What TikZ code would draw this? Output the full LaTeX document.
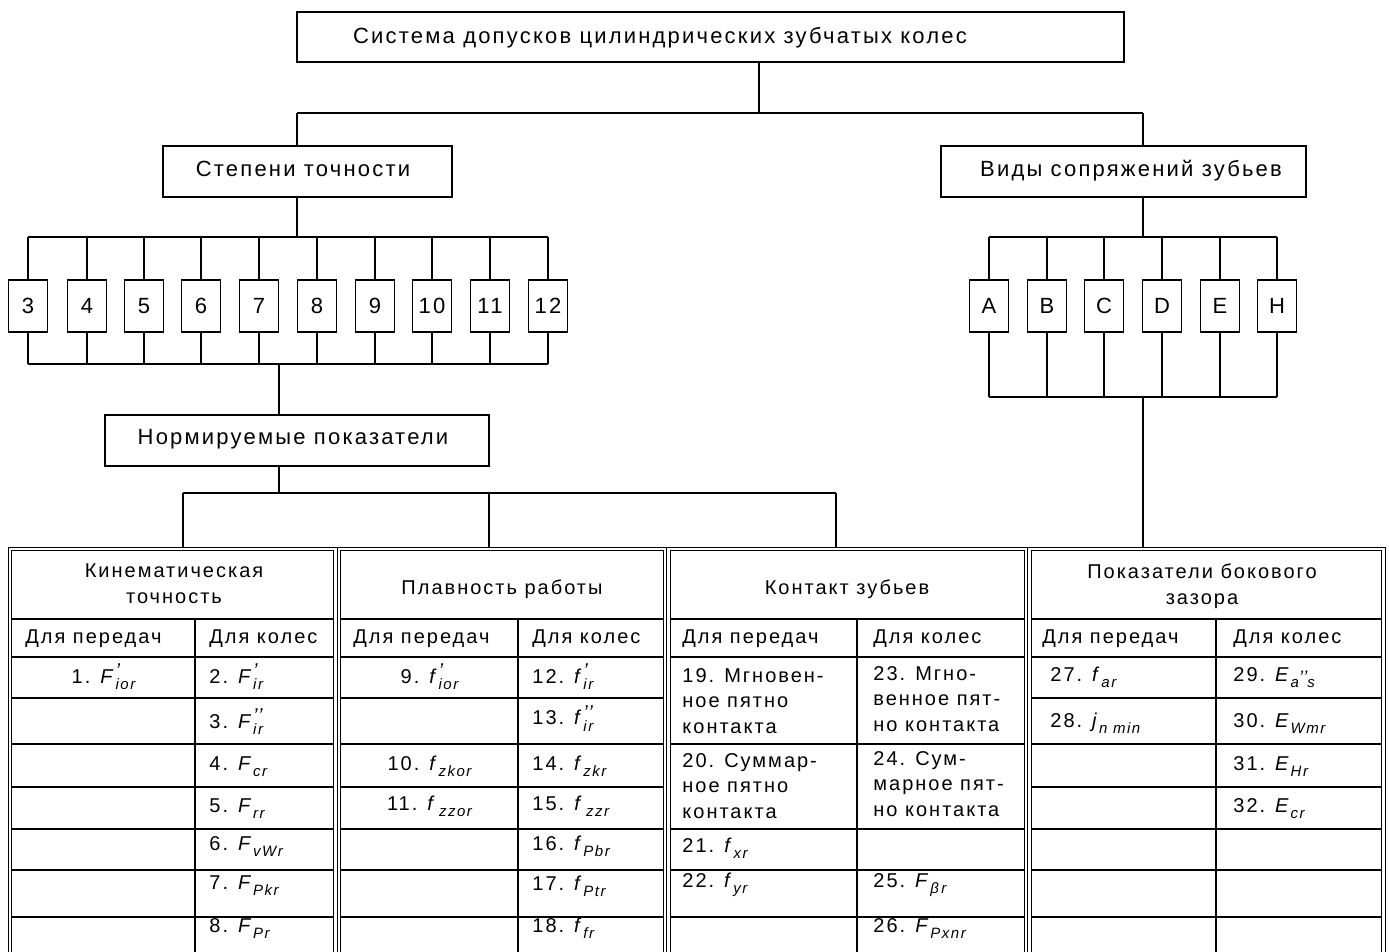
\documentclass[tikz,border=0pt]{standalone}
\usepackage{fontspec}
\setmainfont{Liberation Sans}[LetterSpace=10]
\newcommand\sy[3]{\textit{#1}\makebox[0pt][l]{\raisebox{0.28em}{\fontsize{10}{10}\selectfont\itshape #2}}\raisebox{-0.3em}{\fontsize{7.5}{8}\selectfont\itshape #3}}
\newcommand\dpr{'\kern0.02em'}
\begin{document}
\begin{tikzpicture}[x=0.5pt,y=-0.5pt,
  ln/.style={line width=0.65pt},
  box/.style={draw,line width=0.65pt,inner sep=0pt,outer sep=0pt},
  lbl/.style={inner sep=0pt,font=\fontsize{11}{13}\selectfont,anchor=base},
  nbox/.style={box,minimum width=19.5pt,minimum height=26pt,font=\fontsize{11}{13}\selectfont},
  cell/.style={inner sep=0pt,font=\fontsize{10}{12.75}\selectfont,anchor=base west},
  ccell/.style={cell,anchor=base},
  mcell/.style={inner sep=0pt,font=\fontsize{10}{12.75}\selectfont,align=left,anchor=north west},
  hcell/.style={inner sep=0pt,font=\fontsize{10}{13}\selectfont,align=center},
  grid/.style={line width=0.7pt},
  grp/.style={draw,double,line width=0.5pt,double distance=1.3pt},
]
\useasboundingbox (0,0) rectangle (1389,952);
\fill[white] (0,0) rectangle (1389,952);
\clip (0,0) rectangle (1389,952);

% ---------- boxes ----------
\node[box,minimum width=413.5pt,minimum height=25pt] (top) at (710.5,37) {};
\node[lbl] (topt) at (660,44) {Система допусков цилиндрических зубчатых колес};
\node[box,minimum width=144.5pt,minimum height=25.5pt] (step) at (307.5,171.5) {};
\node[lbl] (stept) at (303,177) {Степени точности};
\node[box,minimum width=182.5pt,minimum height=25.5pt] (vidy) at (1123.5,171.5) {};
\node[lbl] (vidyt) at (1131,177) {Виды сопряжений зубьев};
\node[box,minimum width=192pt,minimum height=25.5pt] (norm) at (297,440.5) {};
\node[lbl] (normt) at (293,445) {Нормируемые показатели};

% number boxes
\foreach \t/\x [count=\i] in {3/28,4/87,5/144,6/201,7/259,8/317,9/375,10/432,11/490,12/548}
  \node[nbox] (n\i) at (\x,306) {\t};
% letter boxes
\foreach \t/\x [count=\i] in {A/989,B/1047,C/1104,D/1162,E/1220,H/1277}
  \node[nbox] (l\i) at (\x,306) {\t};

% ---------- connectors ----------
\coordinate (tj) at (759,113);
\coordinate (hl) at (297,113);
\coordinate (hr) at (1143,113);
\draw[ln] (tj |- top.south) -- (tj);
\draw[ln] (hl) -- (hr);
\draw[ln] (hl) -- (hl |- step.north);
\draw[ln] (hr) -- (hr |- vidy.north);

\coordinate (sj) at (297,237);
\coordinate (sbl) at (28,237);
\coordinate (sbr) at (548,237);
\coordinate (lbl) at (28,364);
\coordinate (lbr) at (548,364);
\draw[ln] (sj |- step.south) -- (sj);
\draw[ln] (sbl) -- (sbr);
\draw[ln] (lbl) -- (lbr);
\foreach \i in {1,...,10}{
  \draw[ln] (n\i.north) -- (n\i.north |- sbl);
  \draw[ln] (n\i.south) -- (n\i.south |- lbl);
}
\coordinate (nj) at (279,364);
\draw[ln] (nj) -- (nj |- norm.north);
\coordinate (nb) at (279,493);
\coordinate (nbl) at (183,493);
\coordinate (nbm) at (489,493);
\coordinate (nbr) at (836,493);
\draw[ln] (nb |- norm.south) -- (nb);
\draw[ln] (nbl) -- (nbr);
\coordinate (tk) at (183,547);
\coordinate (tp) at (489,547);
\coordinate (tc) at (836,547);
\draw[ln] (nbl) -- (tk);
\draw[ln] (nbm) -- (tp);
\draw[ln] (nbr) -- (tc);

\coordinate (vj) at (1143,237);
\coordinate (vbl) at (989,237);
\coordinate (vbr) at (1277,237);
\coordinate (wbl) at (989,397);
\coordinate (wbr) at (1277,397);
\draw[ln] (vj |- vidy.south) -- (vj);
\draw[ln] (vbl) -- (vbr);
\draw[ln] (wbl) -- (wbr);
\foreach \i in {1,...,6}{
  \draw[ln] (l\i.north) -- (l\i.north |- vbl);
  \draw[ln] (l\i.south) -- (l\i.south |- wbl);
}
\coordinate (wj) at (1143,397);
\coordinate (tb) at (1143,547);
\draw[ln] (wj) -- (tb);

% ---------- table grid ----------
\foreach \a/\b/\m in {10/335.5/195, 339/665.5/518, 1029.5/1383.5/1216}{
  \draw[grid] (\a,619) -- (\b,619);
  \draw[grid] (\a,657) -- (\b,657);
  \foreach \y in {698,744,787,829,870,917}
    \draw[grid] (\a,\y) -- (\b,\y);
  \draw[grid] (\m,619) -- (\m,970);
}
\draw[grid] (668.5,619) -- (1026.5,619);
\draw[grid] (668.5,657) -- (1026.5,657);
\foreach \y in {744,829,870,917}
  \draw[grid] (668.5,\y) -- (1026.5,\y);
\draw[grid] (857,619) -- (857,970);

\draw[grp] (10,549) rectangle (335.5,972);
\draw[grp] (339,549) rectangle (665.5,972);
\draw[grp] (668.5,549) rectangle (1026.5,972);
\draw[grp] (1029.5,549) rectangle (1383.5,972);

% ---------- table headers ----------
\node[hcell,anchor=north] (hk) at (174,563) {Кинематическая\\точность};
\node[ccell] (hp) at (502,595) {Плавность работы};
\node[ccell] (hc) at (847,595) {Контакт зубьев};
\node[hcell,anchor=north] (hb) at (1202,563) {Показатели бокового\\зазора};

\node[cell] (sk1) at (25,644) {Для передач};
\node[cell] (sk2) at (209,644) {Для колес};
\node[cell] (sp1) at (353,644) {Для передач};
\node[cell] (sp2) at (532,644) {Для колес};
\node[cell] (sc1) at (682,644) {Для передач};
\node[cell] (sc2) at (873,644) {Для колес};
\node[cell] (sb1) at (1042,644) {Для передач};
\node[cell] (sb2) at (1233,644) {Для колес};

% ---------- kinematic ----------
\node[ccell] (k1) at (103.5,683) {1.\enspace\sy{F}{'}{ior}};
\node[cell] (k2) at (209,683) {2.\enspace\sy{F}{'}{ir}};
\node[cell] (k3) at (209,728) {3.\enspace\sy{F}{\dpr}{ir}};
\node[cell] (k4) at (209,770) {4.\enspace\sy{F}{}{cr}};
\node[cell] (k5) at (209,812) {5.\enspace\sy{F}{}{rr}};
\node[cell] (k6) at (209,850) {6.\enspace\sy{F}{}{vWr}};
\node[cell] (k7) at (209,889) {7.\enspace\sy{F}{}{Pkr}};
\node[cell] (k8) at (209,932) {8.\enspace\sy{F}{}{Pr}};

% ---------- smoothness ----------
\node[ccell] (p9) at (429.5,683) {9.\enspace\sy{f}{'}{ior}};
\node[ccell] (p10) at (429.5,770) {10.\enspace\sy{f}{}{zkor}};
\node[ccell] (p11) at (429.5,810) {11.\enspace\sy{f}{}{\,zzor}};
\node[cell] (p12) at (532,683) {12.\enspace\sy{f}{'}{ir}};
\node[cell] (p13) at (532,725) {13.\enspace\sy{f}{\dpr}{ir}};
\node[cell] (p14) at (532,770) {14.\enspace\sy{f}{}{zkr}};
\node[cell] (p15) at (532,810) {15. \sy{f}{}{\,zzr}};
\node[cell] (p16) at (532,850) {16.\enspace\sy{f}{}{Pbr}};
\node[cell] (p17) at (532,890) {17.\enspace\sy{f}{}{Ptr}};
\node[cell] (p18) at (532,932) {18.\enspace\sy{f}{}{fr}};

% ---------- contact ----------
\node[mcell] (c19) at (682,668) {19. Мгновен-\\ное пятно\\контакта};
\node[mcell] (c20) at (682,753) {20. Суммар-\\ное пятно\\контакта};
\node[cell] (c21) at (682,852) {21. \sy{f}{}{xr}};
\node[cell] (c22) at (682,887) {22.\enspace\sy{f}{}{yr}};
\node[mcell] (c23) at (873,666) {23. Мгно-\\венное пят-\\но контакта};
\node[mcell] (c24) at (873,751) {24. Сум-\\марное пят-\\но контакта};
\node[cell] (c25) at (873,887) {25.\enspace\sy{F}{}{β\,r}};
\node[cell] (c26) at (873,932) {26. \sy{F}{}{Pxnr}};

% ---------- side clearance ----------
\node[cell] (b27) at (1050,682) {27.\enspace\sy{f}{}{ar}};
\node[cell] (b28) at (1050,727) {28.\enspace\sy{j}{}{n min}};
\node[cell] (b29) at (1233,682) {29.\enspace\sy{E}{}{a\raisebox{0.3em}{\fontsize{9}{9}\selectfont\dpr}s}};
\node[cell] (b30) at (1233,727) {30.\enspace\sy{E}{}{Wmr}};
\node[cell] (b31) at (1233,770) {31.\enspace\sy{E}{}{Hr}};
\node[cell] (b32) at (1233,812) {32.\enspace\sy{E}{}{cr}};
\end{tikzpicture}
\end{document}
